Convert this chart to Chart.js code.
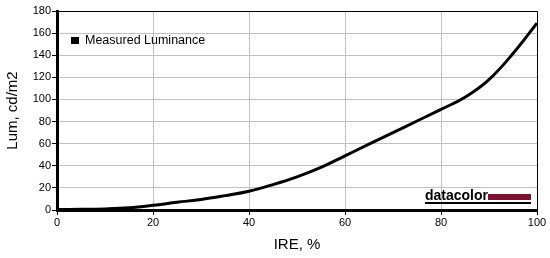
<!DOCTYPE html>
<html>
<head>
<meta charset="utf-8">
<script src="https://cdn.jsdelivr.net/npm/chart.js@4"></script>
<style>
  body { margin: 0; background: #fff; }
  #wrap { width: 550px; height: 258px; }
</style>
</head>
<body>
<div id="wrap"><canvas id="chart" width="550" height="258"></canvas></div>
<script>
// IRE steps and measured luminance (cd/m2)
const ireSteps = [0, 5, 10, 15, 20, 25, 30, 35, 40, 45, 50, 55, 60, 65, 70, 75, 80, 85, 90, 95, 100];
const luminance = [0.5, 0.6, 1, 2, 4.2, 7, 9.5, 13, 17, 23, 30, 38.5, 49, 59.5, 70, 80.5, 91, 102, 118, 141.5, 169];
const xTicks = [0, 20, 40, 60, 80, 100];
const yTicks = [0, 20, 40, 60, 80, 100, 120, 140, 160, 180];

const font = 'Liberation Sans, Arial, sans-serif';

// thin frame on top/right, legend and the datacolor mark
const extras = {
    id: 'extras',
    afterDraw(chart) {
        const ctx = chart.ctx;
        const a = chart.chartArea;
        ctx.save();
        ctx.strokeStyle = '#000';
        ctx.lineWidth = 1;
        ctx.beginPath();
        ctx.moveTo(a.left, a.top + 0.5);
        ctx.lineTo(a.right + 0.5, a.top + 0.5);
        ctx.lineTo(a.right + 0.5, a.bottom);
        ctx.stroke();

        // legend
        ctx.fillStyle = '#000';
        ctx.fillRect(71, 37, 8, 7);
        ctx.font = '12.5px ' + font;
        ctx.textBaseline = 'middle';
        ctx.fillText('Measured Luminance', 85, 41);

        // datacolor logo
        ctx.font = 'bold 14px ' + font;
        ctx.textBaseline = 'alphabetic';
        ctx.fillText('datacolor', 425, 200);
        ctx.fillStyle = '#7b1230';
        ctx.fillRect(488, 194, 43, 6);
        ctx.fillStyle = '#000';
        ctx.fillRect(425, 202, 106, 2);
        ctx.restore();
    }
};

new Chart(document.getElementById('chart').getContext('2d'), {
    type: 'line',
    data: {
        datasets: [{
            label: 'Measured Luminance',
            data: ireSteps.map((x, i) => ({ x: x, y: luminance[i] })),
            borderColor: '#000',
            borderWidth: 3,
            pointRadius: 0,
            tension: 0.4,
            fill: false
        }]
    },
    options: {
        responsive: false,
        animation: false,
        layout: { padding: { top: 11, right: 13, left: 0, bottom: 0 } },
        plugins: { legend: { display: false }, tooltip: { enabled: false } },
        scales: {
            x: {
                type: 'linear',
                min: 0, max: 100,
                afterBuildTicks: s => { s.ticks = xTicks.map(v => ({ value: v })); },
                afterFit: s => { s.height = 48; },
                grid: { color: '#c0c0c0', tickColor: '#000', tickLength: 5 },
                border: { color: '#000', width: 3 },
                ticks: { color: '#000', font: { family: font, size: 11 }, padding: 1, maxRotation: 0 },
                title: { display: true, text: 'IRE, %', color: '#000', font: { family: font, size: 15 }, padding: { top: 5 } }
            },
            y: {
                min: 0, max: 180,
                afterBuildTicks: s => { s.ticks = yTicks.map(v => ({ value: v })); },
                afterFit: s => { s.width = 57; },
                grid: { color: '#c0c0c0', tickColor: '#000', tickLength: 5 },
                border: { color: '#000', width: 3 },
                ticks: { color: '#000', font: { family: font, size: 11 }, padding: 1 },
                title: { display: true, text: 'Lum, cd/m2', color: '#000', font: { family: font, size: 15 }, padding: { bottom: 4 } }
            }
        }
    },
    plugins: [extras]
});
</script>
</body>
</html>
